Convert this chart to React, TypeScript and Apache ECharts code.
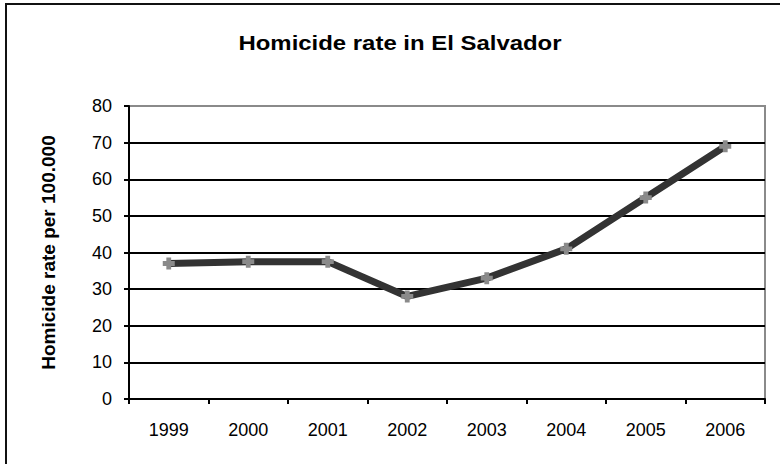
import React, { useEffect, useRef } from "react";
import * as echarts from "echarts";

const years = ["1999", "2000", "2001", "2002", "2003", "2004", "2005", "2006"];
const homicideRate = [37, 37.5, 37.5, 28, 33, 41, 55, 69];
const chartTitle = "Homicide rate in El Salvador";
const yAxisTitle = "Homicide rate per 100.000";

const FONT = "Arial";

export default function App() {
  const ref = useRef<HTMLDivElement>(null);
  useEffect(() => {
    if (!ref.current) return;
    const chart = echarts.init(ref.current, null, { renderer: "svg" });
    chart.setOption({
      animation: false,
      backgroundColor: "#fff",
      graphic: [
        {
          type: "rect",
          shape: { x: 6, y: 4, width: 800, height: 480 },
          style: { fill: "none", stroke: "#111", lineWidth: 2 },
          silent: true,
        },
        {
          type: "text",
          x: 400,
          y: 43,
          scaleX: 1.14,
          style: {
            text: chartTitle,
            fontSize: 21,
            fontWeight: "bold",
            fontFamily: FONT,
            fill: "#000",
            align: "center",
            verticalAlign: "middle",
          },
        },
      ],
      grid: {
        left: 129,
        right: 15,
        top: 106,
        bottom: 65,
        show: true,
        borderColor: "#8a8a8a",
        borderWidth: 2,
        backgroundColor: "transparent",
      },
      xAxis: {
        type: "category",
        data: years,
        boundaryGap: true,
        axisLine: { lineStyle: { color: "#000", width: 2 } },
        axisTick: { show: true, length: 5, lineStyle: { color: "#000", width: 2 } },
        axisLabel: { color: "#000", fontSize: 18, fontFamily: FONT, margin: 22 },
        splitLine: { show: false },
      },
      yAxis: {
        type: "value",
        min: 0,
        max: 80,
        interval: 10,
        name: yAxisTitle,
        nameLocation: "middle",
        nameGap: 71,
        nameTextStyle: { color: "#000", fontSize: 19, fontWeight: "bold", fontFamily: FONT },
        axisLine: { show: true, lineStyle: { color: "#000", width: 2 } },
        axisTick: { show: true, length: 5, lineStyle: { color: "#000", width: 2 } },
        axisLabel: { color: "#000", fontSize: 18, fontFamily: FONT, margin: 17 },
        splitLine: {
          show: true,
          showMaxLine: false,
          lineStyle: { color: "#000", width: 2 },
        },
      },
      series: [
        {
          type: "line",
          data: homicideRate,
          lineStyle: { color: "#333", width: 7 },
          symbol: "path://M3,0 H7 V3 H10 V7 H7 V10 H3 V7 H0 V3 H3 Z",
          symbolSize: 12,
          itemStyle: { color: "#8a8a8a" },
          z: 5,
        },
      ],
    });
    return () => chart.dispose();
  }, []);
  return (
    <div
      ref={ref}
      style={{ position: "fixed", left: 0, top: 0, width: 780, height: 464 }}
    />
  );
}
